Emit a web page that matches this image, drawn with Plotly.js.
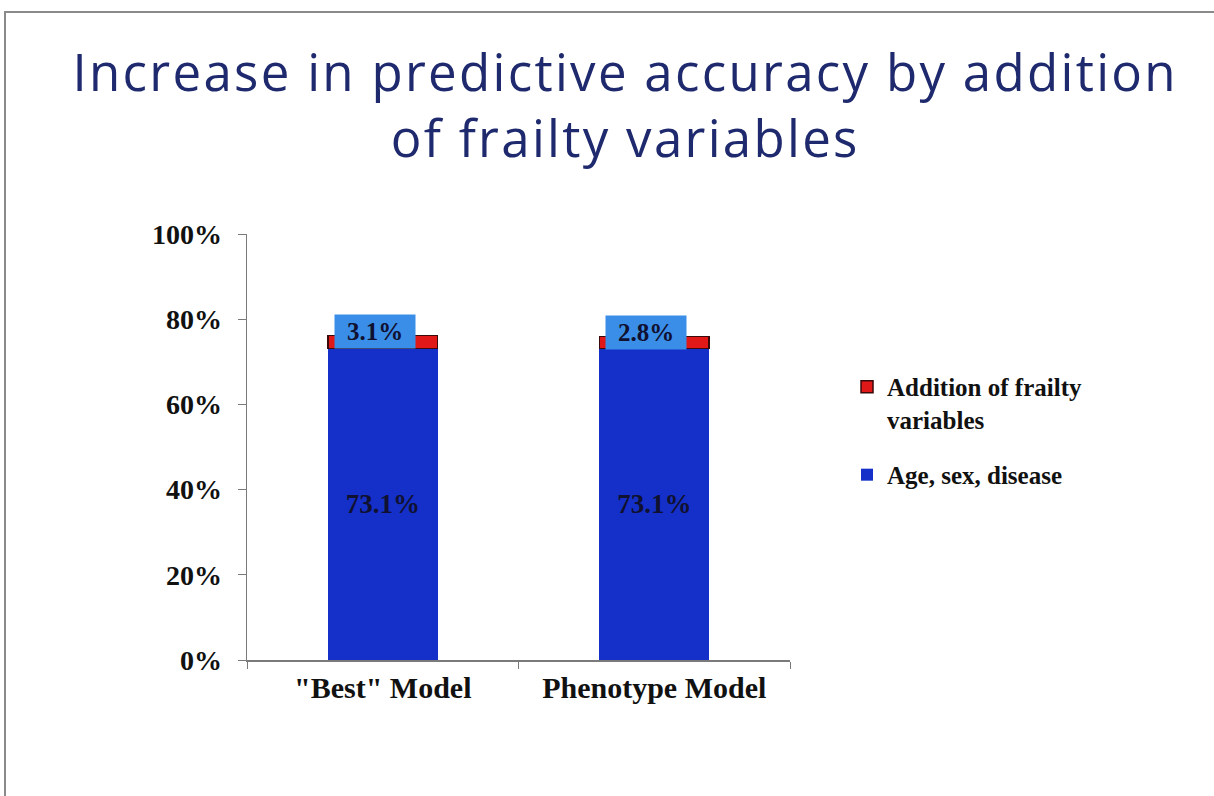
<!DOCTYPE html>
<html>
<head>
<meta charset="utf-8">
<script src="https://cdn.plot.ly/plotly-3.0.1.min.js"></script>
<style>
  html, body { margin: 0; padding: 0; background: #ffffff; }
  #frame { position: absolute; left: 4px; top: 11px; width: 1210px; height: 785px;
           border-top: 2px solid #8a8a8a; border-left: 2px solid #8a8a8a; box-sizing: border-box; }
  #chart { position: absolute; left: 0; top: 0; width: 1214px; height: 796px; }
  .gtitle { letter-spacing: 2.3px; }
</style>
</head>
<body>
<div id="frame"></div>
<div id="chart"></div>
<script>
const categories = ['"Best" Model', 'Phenotype Model'];
const baseValues = [73.1, 73.1];
const frailtyValues = [3.1, 2.8];
const seriesNames = ['Age, sex, disease', 'Addition of frailty<br>variables'];
const yTickValues = [0, 20, 40, 60, 80, 100];
const yTickLabels = ['0%', '20%', '40%', '60%', '80%', '100%'];

const serif = '"Liberation Serif", "Times New Roman", serif';

const traces = [
  {
    type: 'bar', x: categories, y: baseValues, name: '<b>' + seriesNames[0] + '</b>',
    legendgroup: 'a', legendrank: 2,
    marker: { color: '#1430c8', line: { color: '#1430c8', width: 0 } },
    text: baseValues.map(v => '<b>' + v.toFixed(1) + '%</b>'),
    textposition: 'inside', insidetextanchor: 'middle',
    textfont: { family: serif, size: 27, color: '#101030' },
    hoverinfo: 'skip'
  },
  {
    type: 'bar', x: categories, y: frailtyValues, name: '<b>' + seriesNames[1] + '</b>',
    legendgroup: 'b', legendrank: 1,
    marker: { color: '#e01818', line: { color: '#3a0a0a', width: 1.5 } },
    textposition: 'none',
    hoverinfo: 'skip'
  }
];

const annotations = categories.map((c, i) => ({
  x: c, y: baseValues[i] + frailtyValues[i], xref: 'x', yref: 'y',
  text: '<b>' + frailtyValues[i].toFixed(1) + '%</b>',
  showarrow: false, xanchor: 'center', yanchor: 'middle', xshift: -8, yshift: 4,
  font: { family: serif, size: 25, color: '#101030' },
  bgcolor: '#3a8ee8', borderpad: 3, width: 74
}));

const layout = {
  width: 1214, height: 796,
  paper_bgcolor: 'rgba(0,0,0,0)', plot_bgcolor: 'rgba(0,0,0,0)',
  margin: { l: 247, r: 424, t: 234, b: 136 },
  barmode: 'stack', bargap: 0.595,
  showlegend: true,
  title: {
    text: 'Increase in predictive accuracy by addition<br>of frailty variables',
    font: { family: '"Open Sans", sans-serif', size: 51, color: '#1f2a6e' },
    x: 0.515, xanchor: 'center', yref: 'container', y: 0.886, yanchor: 'top'
  },
  xaxis: {
    type: 'category', showline: true, linecolor: '#7a7a7a', linewidth: 1.5,
    ticks: 'outside', tickson: 'boundaries', ticklen: 7, tickcolor: '#7a7a7a',
    tickvals: categories, ticktext: categories.map(c => '<b>' + c + '</b>'),
    tickfont: { family: serif, size: 30, color: '#111111' },
    showgrid: false, zeroline: false, fixedrange: true
  },
  yaxis: {
    range: [0, 100], tickvals: yTickValues, ticktext: yTickLabels.map(t => '<b>' + t + '</b>'),
    showline: true, linecolor: '#7a7a7a', linewidth: 1.5,
    ticks: 'outside', ticklen: 8, tickcolor: '#7a7a7a', ticklabelstandoff: 10,
    tickfont: { family: serif, size: 28, color: '#111111' },
    showgrid: false, zeroline: false, fixedrange: true
  },
  legend: {
    x: 1.105, y: 0.695, xanchor: 'left', yanchor: 'top', valign: 'top',
    traceorder: 'grouped', tracegroupgap: 20,
    font: { family: serif, size: 25, color: '#111111' },
    bgcolor: 'rgba(0,0,0,0)', itemwidth: 30
  },
  annotations: annotations
};

Plotly.newPlot('chart', traces, layout, { displayModeBar: false, staticPlot: true });
</script>
</body>
</html>
